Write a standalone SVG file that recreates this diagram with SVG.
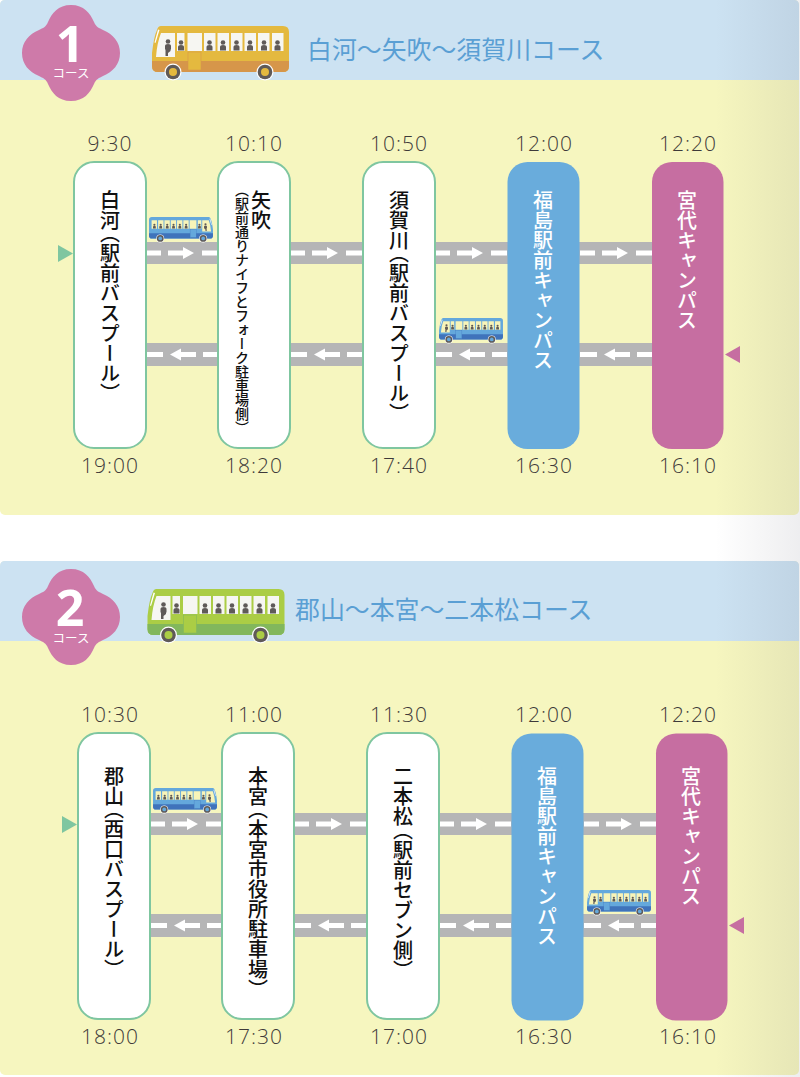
<svg xmlns="http://www.w3.org/2000/svg" xmlns:xlink="http://www.w3.org/1999/xlink" width="800" height="1077" viewBox="0 0 800 1077">
<style>
text{font-family:"Noto Sans CJK JP","Noto Sans",sans-serif}
.head{fill:#cce2f2}.body{fill:#f6f6bf}
.title{font-size:24.9px;fill:#5a9fd4}
.num{font-family:"Open Sans",sans-serif;font-size:50px;font-weight:700;fill:#fff;text-anchor:middle}
.sub{font-size:12.5px;fill:#fff;text-anchor:middle}
.badge{fill:#ce7aa9}
.time{font-family:"Open Sans",sans-serif;font-size:21px;font-weight:300;letter-spacing:1px;fill:#3e3a3a;text-anchor:middle}
.w{fill:#fff;stroke:#7fc6a0;stroke-width:2}
.b{fill:#69acdc}.p{fill:#c66ea1}
.v{writing-mode:vertical-rl;font-size:20px;font-weight:500;fill:#111;font-feature-settings:"vhal"}
.s{font-size:14px}
.wt{fill:#fff}
.road{fill:#b5b5b6}
.mark{fill:#fff}
.tg{fill:#7fc6a0}.tp{fill:#c66ea1}
.bus-a{fill:var(--a)}.bus-b{fill:var(--b)}.bus-c{fill:#fff}.bus-d{fill:#5f5a58}.bus-e{fill:var(--w,#f6f6f2)}
</style>
<defs>
<linearGradient id="shade" x1="0" x2="1" y1="0" y2="0"><stop offset="0" stop-color="#556" stop-opacity="0"/><stop offset="1" stop-color="#556" stop-opacity=".1"/></linearGradient>
<g id="segR"><rect x="0" y="-2.5" width="15" height="5"/><path d="M22-2.5h15v-3.5l11 6-11 6v-3.500h-15z"/><rect x="56" y="-2.5" width="16" height="5"/></g>
<g id="segL"><rect x="0" y="-2.5" width="17" height="5"/><path d="M50-2.5h-15v-3.500l-11 6 11 6v-3.500h15z"/><rect x="57" y="-2.5" width="15" height="5"/></g>
<g id="person"><circle cx="0" cy="2" r="2.3"/><path d="M-3 10v-3.500q0-2 3-2t3 2v3.500z"/></g>
<symbol id="bus" viewBox="0 0 137 54" overflow="visible">
<path class="bus-a" d="M9 0H131q6 0 6 6V40q0 6-6 6H6q-6 0-6-6V27Q2 10 5 4 6 0 9 0z"/>
<path class="bus-b" d="M0 35H137V40q0 6-6 6H6q-6 0-6-6z"/>
<path class="bus-e" d="M9 7h14v24H4q1-14 5-24zM25 7h7.500v18H25zM35.500 7h14.500v18H35.500zM52 7h11.500v18H52zM65.500 7h11.500v18H65.500zM79 7h11.500v18H79zM92.500 7h11.500v18H92.500zM106 7h11.500v18H106zM120 7h11.500v18H120z"/>
<path class="bus-c" d="M6 3.500l1.500.5-4 13-1-.5z"/>
<rect class="bus-a" x="36" y="26" width="13" height="18" style="stroke:var(--b);stroke-width:.6"/>
<g class="bus-d"><use xlink:href="#person" x="16" y="13.500"/><path d="M13.500 30V21q2.500-3 5 0v4l-2.500 2v3z"/><use xlink:href="#person" x="29" y="14.500"/><use xlink:href="#person" x="57.500" y="14.500"/><use xlink:href="#person" x="71" y="14.500"/><use xlink:href="#person" x="84.500" y="14.500"/><use xlink:href="#person" x="98" y="14.500"/><use xlink:href="#person" x="112" y="14.500"/><use xlink:href="#person" x="125.500" y="14.500"/></g>
<g><circle class="bus-c" cx="21" cy="46" r="8.500"/><circle class="bus-d" cx="21" cy="46" r="7.300"/><circle class="bus-a" cx="21" cy="46" r="4"/><circle class="bus-c" cx="113" cy="46" r="8.500"/><circle class="bus-d" cx="113" cy="46" r="7.300"/><circle class="bus-a" cx="113" cy="46" r="4"/></g>
</symbol>
<path id="flower" d="M71 5C84 5 90 13 94 22 96 27 99 28 103 30 113 34 120 42 120 53 120 64 113 72 103 76 99 78 96 79 94 84 90 93 84 101 71 101 58 101 52 93 48 84 46 79 43 78 39 76 29 72 22 64 22 53 22 42 29 34 39 30 43 28 46 27 48 22 52 13 58 5 71 5z"/>
</defs>

<g id="panel1">
<rect class="body" x="0" y="0" width="799" height="515" rx="5"/>
<path class="head" d="M5 0H794q5 0 5 5V80H0V5q0-5 5-5z"/>
</g>
<g id="panel2">
<rect class="body" x="0" y="561" width="799" height="514" rx="5"/>
<path class="head" d="M5 561H794q5 0 5 5V641H0V566q0-5 5-5z"/>
</g>
<rect id="shading" x="715" y="0" width="85" height="1077" fill="url(#shade)"/>

<g id="course1-header">
<use xlink:href="#flower" class="badge"/>
<text class="num" x="70" y="62">1</text>
<text class="sub" x="71" y="78">コース</text>
<use xlink:href="#bus" x="152" y="26" width="137" height="54" style="--a:#e4b93f;--b:#d6964a"/>
<text class="title" x="307" y="59">白河〜矢吹〜須賀川コース</text>
</g>
<g id="course2-header">
<use xlink:href="#flower" class="badge" y="564"/>
<text class="num" x="70" y="626">2</text>
<text class="sub" x="71" y="642.500">コース</text>
<use xlink:href="#bus" x="147.500" y="589" width="137" height="54" style="--a:#abcd45;--b:#82b75c"/>
<text class="title" x="295" y="619">郡山〜本宮〜二本松コース</text>
</g>

<g id="connectors">
<g class="road">
<rect x="146" y="242" width="506" height="22"/><rect x="146" y="343" width="506" height="23"/>
<rect x="150" y="813" width="506" height="22"/><rect x="150" y="914" width="506" height="23"/>
</g>
<g class="mark">
<use xlink:href="#segR" x="146" y="253"/><use xlink:href="#segR" x="290" y="253"/><use xlink:href="#segR" x="435" y="253"/><use xlink:href="#segR" x="580" y="253"/>
<use xlink:href="#segL" x="146" y="354.500"/><use xlink:href="#segL" x="290" y="354.500"/><use xlink:href="#segL" x="435" y="354.500"/><use xlink:href="#segL" x="580" y="354.500"/>
<use xlink:href="#segR" x="150" y="824"/><use xlink:href="#segR" x="294" y="824"/><use xlink:href="#segR" x="439" y="824"/><use xlink:href="#segR" x="584" y="824"/>
<use xlink:href="#segL" x="150" y="925.500"/><use xlink:href="#segL" x="294" y="925.500"/><use xlink:href="#segL" x="439" y="925.500"/><use xlink:href="#segL" x="584" y="925.500"/>
</g>
<path class="tg" d="M58 245l15 8.500-15 8.500z"/><path class="tp" d="M740 346l-15 8.500 15 8.500z"/>
<path class="tg" d="M62 816l15 8.500-15 8.500z"/><path class="tp" d="M744 917l-15 8.500 15 8.500z"/>
</g>

<g id="buses" style="--a:#64a8dc;--b:#3f73bb;--w:#f8f4b8">
<use xlink:href="#bus" width="64" height="25.200" transform="translate(213 217) scale(-1 1)"/>
<use xlink:href="#bus" x="439" y="318" width="64" height="25.200"/>
<use xlink:href="#bus" width="64" height="25.200" transform="translate(217 788) scale(-1 1)"/>
<use xlink:href="#bus" x="587" y="890" width="64" height="25.200"/>
</g>

<g id="c1n1"><text class="time" x="110" y="151">9:30</text><rect class="w" x="74" y="162" width="72" height="286" rx="20"/><text class="v" x="110" y="190">白河<tspan dy="3">（</tspan>駅前バスプール）</text><text class="time" x="110" y="473">19:00</text></g>
<g id="c1n2"><text class="time" x="254" y="151">10:10</text><rect class="w" x="218" y="162" width="72" height="286" rx="20"/><text class="v" x="261" y="190">矢吹</text><text class="v s" x="242" y="190">（駅前通りナイフとフォーク駐車場側）</text><text class="time" x="254" y="473">18:20</text></g>
<g id="c1n3"><text class="time" x="399" y="151">10:50</text><rect class="w" x="363" y="162" width="72" height="286" rx="20"/><text class="v" x="399" y="190">須賀川<tspan dy="3">（</tspan>駅前バスプール）</text><text class="time" x="399" y="473">17:40</text></g>
<g id="c1n4"><text class="time" x="544" y="151">12:00</text><rect class="b" x="507.500" y="162" width="72" height="287" rx="20"/><text class="v wt" x="543" y="190">福島駅前キャンパス</text><text class="time" x="544" y="473">16:30</text></g>
<g id="c1n5"><text class="time" x="688" y="151">12:20</text><rect class="p" x="652" y="162" width="71.500" height="287" rx="20"/><text class="v wt" x="687" y="190">宮代キャンパス</text><text class="time" x="688" y="473">16:10</text></g>

<g id="c2n1"><text class="time" x="110" y="722">10:30</text><rect class="w" x="78" y="733" width="72" height="286" rx="20"/><text class="v" x="114" y="766">郡山<tspan dy="3">（</tspan>西口バスプール）</text><text class="time" x="110" y="1044">18:00</text></g>
<g id="c2n2"><text class="time" x="254" y="722">11:00</text><rect class="w" x="222" y="733" width="72" height="286" rx="20"/><text class="v" x="258" y="766">本宮<tspan dy="3">（</tspan>本宮市役所駐車場）</text><text class="time" x="254" y="1044">17:30</text></g>
<g id="c2n3"><text class="time" x="399" y="722">11:30</text><rect class="w" x="367" y="733" width="72" height="286" rx="20"/><text class="v" x="403" y="766">二本松<tspan dy="4">（</tspan>駅前セブン側）</text><text class="time" x="399" y="1044">17:00</text></g>
<g id="c2n4"><text class="time" x="544" y="722">12:00</text><rect class="b" x="511.500" y="733.500" width="72" height="287" rx="20"/><text class="v wt" x="547" y="766">福島駅前キャンパス</text><text class="time" x="544" y="1044">16:30</text></g>
<g id="c2n5"><text class="time" x="688" y="722">12:20</text><rect class="p" x="656" y="733.500" width="71.500" height="287" rx="20"/><text class="v wt" x="691" y="766">宮代キャンパス</text><text class="time" x="688" y="1044">16:10</text></g>
</svg>
